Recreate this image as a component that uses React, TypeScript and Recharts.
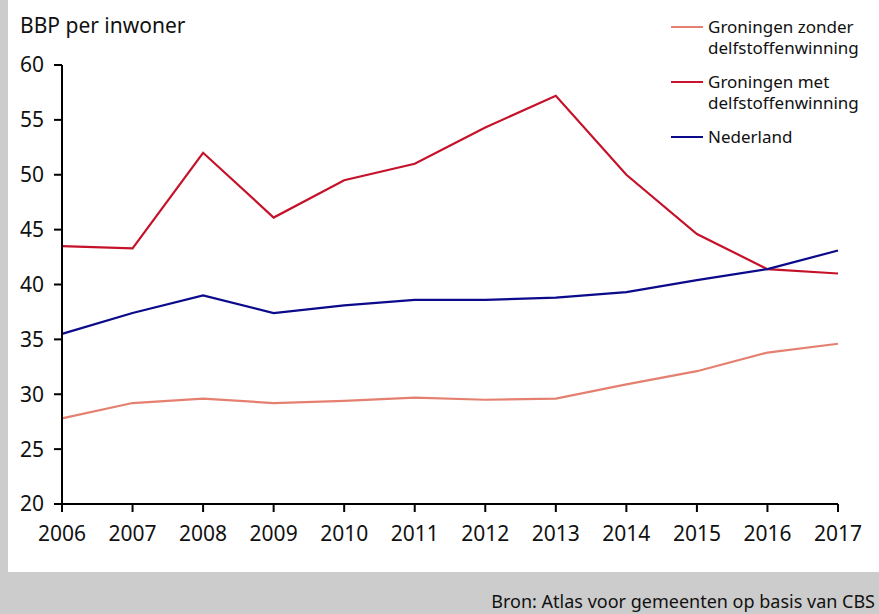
import React from "react";
import { LineChart, Line, XAxis, YAxis } from "recharts";

const years = ["2006","2007","2008","2009","2010","2011","2012","2013","2014","2015","2016","2017"];
const zonder = [27.8, 29.2, 29.6, 29.2, 29.4, 29.7, 29.5, 29.6, 30.9, 32.1, 33.8, 34.6];
const met = [43.5, 43.3, 52.0, 46.1, 49.5, 51.0, 54.3, 57.2, 50.0, 44.6, 41.4, 41.0];
const nederland = [35.5, 37.4, 39.0, 37.4, 38.1, 38.6, 38.6, 38.8, 39.3, 40.4, 41.4, 43.1];
const yTicks = [20, 25, 30, 35, 40, 45, 50, 55, 60];

const data = years.map((y, i) => ({
  year: y,
  zonder: zonder[i],
  met: met[i],
  nederland: nederland[i],
}));

const FONT = "'Noto Sans', sans-serif";

const legendItems = [
  { lines: ["Groningen zonder", "delfstoffenwinning"], color: "#e58070" },
  { lines: ["Groningen met", "delfstoffenwinning"], color: "#c8152d" },
  { lines: ["Nederland"], color: "#0a0a8a" },
];

export default function App() {
  return (
    <div style={{ position: "absolute", left: 0, top: 0, width: 879, height: 614, background: "#cccccc", overflow: "hidden" }}>
      <div style={{ position: "absolute", left: 8, top: 0, width: 871, height: 572, background: "#ffffff" }} />
      <div style={{ position: "absolute", left: 20, top: 11, fontFamily: FONT, fontSize: 21, color: "#111" }}>
        BBP per inwoner
      </div>
      <div style={{ position: "absolute", left: 0, top: 0 }}>
        <LineChart width={879} height={572} data={data} margin={{ top: 65, right: 41, bottom: 18, left: 12 }}>
          <XAxis
            dataKey="year"
            stroke="#000"
            strokeWidth={2}
            tickSize={8}
            tickMargin={14}
            height={50}
            tick={{ fill: "#111", fontSize: 21, fontFamily: FONT }}
            tickLine={{ stroke: "#000", strokeWidth: 2 }}
            padding={{ left: 0, right: 0 }}
          />
          <YAxis
            domain={[20, 60]}
            ticks={yTicks}
            stroke="#000"
            strokeWidth={2}
            width={50}
            tickSize={8}
            tickMargin={10}
            tick={{ fill: "#111", fontSize: 21, fontFamily: FONT }}
            tickLine={{ stroke: "#000", strokeWidth: 2 }}
            interval={0}
          />
          <Line type="linear" dataKey="zonder" stroke="#e58070" strokeWidth={2.2} dot={false} isAnimationActive={false} />
          <Line type="linear" dataKey="met" stroke="#c5122a" strokeWidth={2.2} dot={false} isAnimationActive={false} />
          <Line type="linear" dataKey="nederland" stroke="#0a0a8a" strokeWidth={2.2} dot={false} isAnimationActive={false} />
        </LineChart>
      </div>
      <div style={{ position: "absolute", left: 671, top: 16, fontFamily: FONT, fontSize: 17, color: "#111" }}>
        {legendItems.map((it, i) => (
          <div key={i} style={{ display: "flex", alignItems: "flex-start", marginBottom: 13 }}>
            <div style={{ width: 32, height: 2, background: it.color, marginTop: 10, marginRight: 5 }} />
            <div style={{ lineHeight: "21px" }}>
              {it.lines.map((l, j) => (
                <div key={j}>{l}</div>
              ))}
            </div>
          </div>
        ))}
      </div>
      <div style={{ position: "absolute", right: 4, top: 589, fontFamily: FONT, fontSize: 18, lineHeight: "24px", color: "#111", whiteSpace: "nowrap" }}>
        Bron: Atlas voor gemeenten op basis van CBS
      </div>
    </div>
  );
}
